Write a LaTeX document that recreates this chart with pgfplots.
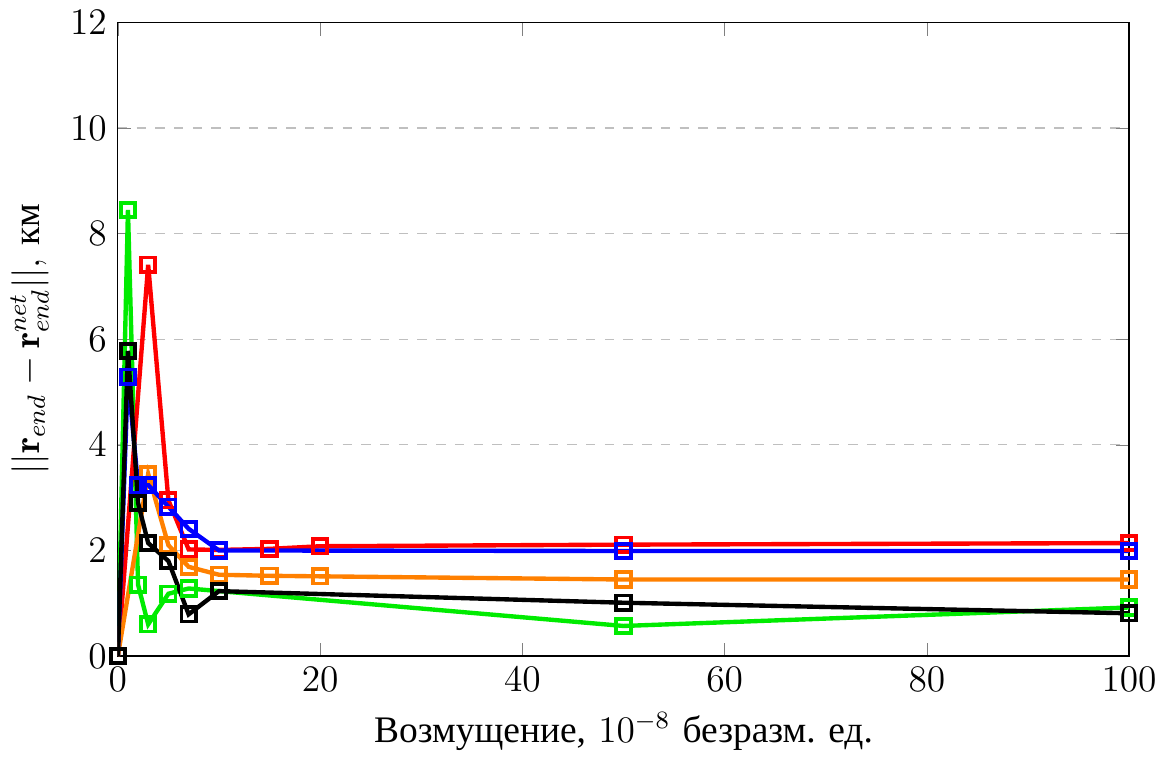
\documentclass[border=0pt]{standalone}
\usepackage{fontspec}
\usepackage{pgfplots}
\pgfplotsset{compat=1.18}
\newfontfamily\cyr{Liberation Serif}
\definecolor{cgreen}{RGB}{0,235,0}
\definecolor{corange}{RGB}{255,128,0}
\begin{document}
\begin{tikzpicture}
\begin{axis}[
  scale only axis,
  width=324pt, height=203pt,
  font=\large,
  xmin=0, xmax=100, ymin=0, ymax=12,
  xtick={0,20,40,60,80,100},
  ytick={0,2,4,6,8,10,12},
  ymajorgrids=true,
  grid style={dashed, gray!50},
  xlabel={{\cyr Возмущение,} $10^{-8}$ {\cyr безразм. ед.}},
  ylabel={$||\mathbf{r}_{end}-\mathbf{r}^{net}_{end}||$, {\cyr км}},
  every axis plot/.append style={line width=1.4pt, mark=square, mark size=2.3pt, mark options={solid, line width=1.2pt}},
]
\addplot[color=cgreen] coordinates {(0,0) (1,8.45) (2,1.35) (3,0.60) (5,1.18) (7,1.28) (50,0.57) (100,0.92)};
\addplot[color=red] coordinates {(0,0) (3,7.41) (5,2.95) (7,2.02) (10,2.01) (15,2.03) (20,2.08) (50,2.11) (100,2.14)};
\addplot[color=corange] coordinates {(0,0) (3,3.45) (5,2.10) (7,1.69) (10,1.54) (15,1.52) (20,1.51) (50,1.45) (100,1.45)};
\addplot[color=blue] coordinates {(0,0) (1,5.29) (2,3.23) (3,3.24) (5,2.83) (7,2.41) (10,2.00) (50,1.99) (100,1.99)};
\addplot[color=black] coordinates {(0,0) (1,5.78) (2,2.90) (3,2.14) (5,1.80) (7,0.79) (10,1.23) (50,1.01) (100,0.81)};
\end{axis}
\end{tikzpicture}
\end{document}
